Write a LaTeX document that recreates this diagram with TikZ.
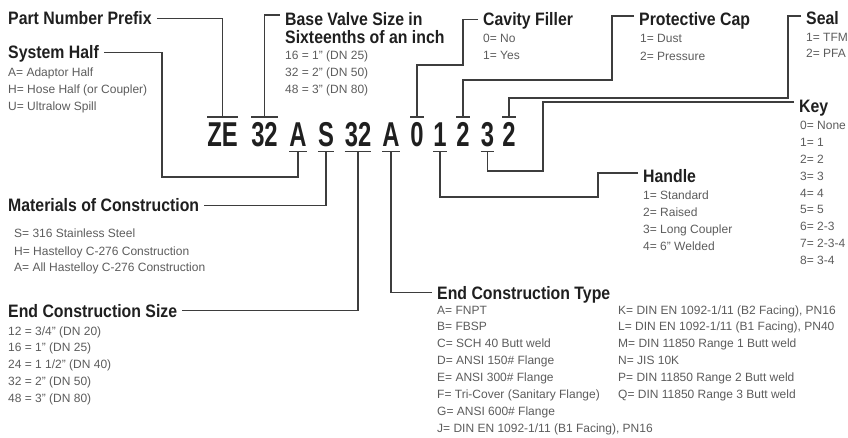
\documentclass[tikz,border=0pt]{standalone}
\usepackage{fontspec}
\setmainfont{Liberation Sans}
\newfontfamily\headfont{Liberation Sans}[FakeStretch=0.88]
\newfontfamily\codefont{Liberation Sans}[FakeStretch=0.69]
\usepackage{xcolor}
\definecolor{inkdark}{HTML}{1F1F1F}
\definecolor{inkgray}{HTML}{5C5C5C}
\definecolor{wiregray}{HTML}{3D3D3D}

\begin{document}
\begin{tikzpicture}[x=1pt, y=-1pt,
  head/.style={font=\headfont\bfseries\fontsize{18}{20}\selectfont, text=inkdark,
    inner sep=0pt, text height=13pt, text depth=0pt, anchor=base west},
  item/.style={font=\fontsize{12}{14}\selectfont, text=inkgray, inner sep=0pt, anchor=base west},
  codechar/.style={font=\codefont\bfseries\fontsize{34.5}{36}\selectfont, text=inkdark,
    inner xsep=0pt, inner ysep=5pt, text height=24.5pt, text depth=0pt, anchor=base},
  wire/.style={draw=wiregray, line width=1.5pt, shorten <=5pt},
  bar/.style={draw=wiregray, line width=1.5pt}]
  \useasboundingbox (0,0) rectangle (848,438);

  % ---- part number ----
  \foreach \n/\c/\x in {ze/ZE/222.5, bsz/32/264.5, hlf/A/298, mat/S/326, esz/32/358,
                        ety/A/391, cav/0/417, hnd/1/440, cap/2/463, key/3/487.5, seal/2/509} {
    \node[codechar] (\n) at (\x,146.5) {\c};
  }
  % ---- bars over / under the fields ----
  \foreach \n in {ze, bsz, cav, cap, seal} {
    \draw[bar] (\n.north west) -- (\n.north east);
  }
  \foreach \n in {hlf, mat, esz, ety, hnd, key} {
    \draw[bar] (\n.south west) -- (\n.south east);
  }

  % ---- headings ----
  \node[head] (prefixlbl) at (8,25) {Part Number Prefix};
  \node[head] (halflbl) at (8,59) {System Half};
  \node[head] (sizelbl) at (285,26) {Base Valve Size in};
  \node[head] (sizelbl2) at (285,44) {Sixteenths of an inch};
  \node[head] (cavlbl) at (483,26) {Cavity Filler};
  \node[head] (caplbl) at (639,26) {Protective Cap};
  \node[head] (seallbl) at (806,25) {Seal};
  \node[head] (keylbl) at (799,113) {Key};
  \node[head] (hndlbl) at (643,183) {Handle};
  \node[head] (matlbl) at (8,212) {Materials of Construction};
  \node[head] (eszlbl) at (8,317) {End Construction Size};
  \node[head] (etylbl) at (437,299) {End Construction Type};

  % ---- option lists ----
  \foreach \t [count=\i] in {A= Adaptor Half, H= Hose Half (or Coupler), U= Ultralow Spill}
    \node[item] (half-\i) at (8,{77+17*(\i-1)}) {\t};
  \foreach \t [count=\i] in {16 = 1'' (DN 25), 32 = 2'' (DN 50), 48 = 3'' (DN 80)}
    \node[item] (size-\i) at (285,{60+17*(\i-1)}) {\t};
  \foreach \t [count=\i] in {0= No, 1= Yes}
    \node[item] (cav-\i) at (483,{43+17*(\i-1)}) {\t};
  \foreach \t [count=\i] in {1= Dust, 2= Pressure}
    \node[item] (cap-\i) at (640,{43+18*(\i-1)}) {\t};
  \foreach \t [count=\i] in {1= TFM, 2= PFA}
    \node[item] (seal-\i) at (806,{42+16*(\i-1)}) {\t};
  \foreach \t [count=\i] in {0= None, 1= 1, 2= 2, 3= 3, 4= 4, 5= 5, 6= 2-3, 7= 2-3-4, 8= 3-4}
    \node[item] (key-\i) at (800,{130+16.8*(\i-1)}) {\t};
  \foreach \t [count=\i] in {1= Standard, 2= Raised, 3= Long Coupler, 4= 6'' Welded}
    \node[item] (hnd-\i) at (643,{200+17*(\i-1)}) {\t};
  \foreach \t [count=\i] in {S= 316 Stainless Steel, H= Hastelloy C-276 Construction,
                             A= All Hastelloy C-276 Construction}
    \node[item] (mat-\i) at (14,{238+17*(\i-1)}) {\t};
  \foreach \t [count=\i] in {12 = 3/4'' (DN 20), 16 = 1'' (DN 25), 24 = 1 1/2'' (DN 40),
                             32 = 2'' (DN 50), 48 = 3'' (DN 80)}
    \node[item] (esz-\i) at (8,{335+16.8*(\i-1)}) {\t};
  \foreach \t [count=\i] in {A= FNPT, B= FBSP, C= SCH 40 Butt weld, D= ANSI 150\# Flange,
                             E= ANSI 300\# Flange, F= Tri-Cover (Sanitary Flange),
                             G= ANSI 600\# Flange, {J= DIN EN 1092-1/11 (B1 Facing), PN16}}
    \node[item] (ety-\i) at (437,{314+16.9*(\i-1)}) {\t};
  \foreach \t [count=\i] in {{K= DIN EN 1092-1/11 (B2 Facing), PN16},
                             {L= DIN EN 1092-1/11 (B1 Facing), PN40},
                             M= DIN 11850 Range 1 Butt weld, N= JIS 10K,
                             P= DIN 11850 Range 2 Butt weld, Q= DIN 11850 Range 3 Butt weld}
    \node[item] (etyb-\i) at (618,{314+16.9*(\i-1)}) {\t};

  % ---- leader lines ----
  \draw[wire] (prefixlbl.east) -| (ze.north);
  \draw[wire] ([yshift=4.5pt]sizelbl.west) -| (bsz.north);
  \draw[wire] (halflbl.east) -| (162,177) -| (hlf.south);
  \draw[wire] (matlbl.east) -| (mat.south);
  \draw[wire] (eszlbl.east) -| (esz.south);
  \draw[wire] (etylbl.west) -| (ety.south);
  \draw[wire] (cavlbl.west) -| (463,65) -| (cav.north);
  \draw[wire] ([yshift=3.5pt]caplbl.west) -| (612,80) -| (cap.north);
  \draw[wire] ([yshift=2.5pt]seallbl.west) -| (788,98) -| (seal.north);
  \draw[wire] ([yshift=4.5pt]keylbl.west) -| (543,171) -| (key.south);
  \draw[wire] ([yshift=3.5pt]hndlbl.west) -| (598,197) -| (hnd.south);
\end{tikzpicture}
\end{document}
